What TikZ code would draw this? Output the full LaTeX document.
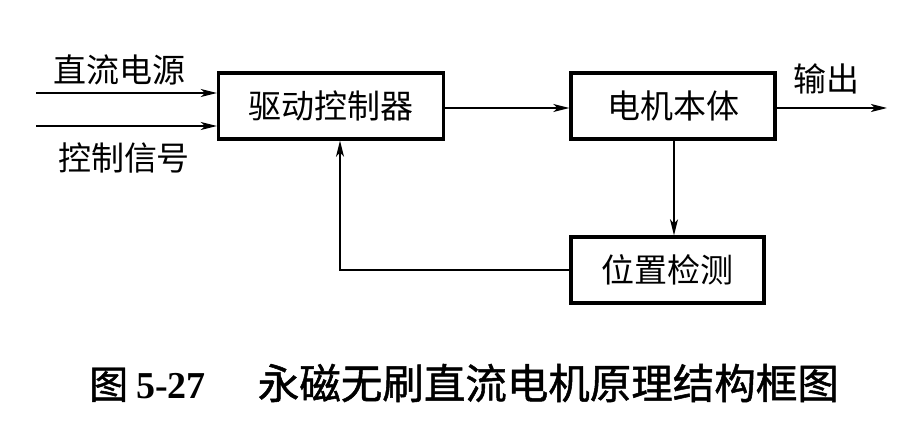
\documentclass[tikz,border=0pt]{standalone}
\usepackage{fontspec}
\setmainfont{Liberation Serif}
\newfontfamily\cjk{Noto Sans CJK SC}
\newfontfamily\cjkcap[FakeBold=1.2]{Noto Sans CJK SC}
\usetikzlibrary{arrows.meta}
\begin{document}
\begin{tikzpicture}[x=1pt,y=-1pt,
  blk/.style={draw, line width=3.4pt, minimum height=66pt, inner sep=0pt, font=\cjk\fontsize{33}{36}\selectfont},
  lbl/.style={font=\cjk\fontsize{33}{36}\selectfont, inner sep=0pt},
  conn/.style={line width=1.4pt, -{Stealth[length=16pt,width=8pt,inset=4pt]}},
  plain/.style={line width=1.4pt}]
\useasboundingbox (0,0) rectangle (914,444);
\node[blk, minimum width=225pt] (drv) at (331,106) {驱动控制器};
\node[blk, minimum width=204pt] (mot) at (673,106) {电机本体};
\node[blk, minimum width=193pt] (pos) at (667.5,270) {位置检测};
\coordinate (in1) at (36,93);
\coordinate (in2) at (36,126);
\coordinate (out) at (887,108);
\coordinate (fb) at (340,270);
\draw[conn] (in1) -- (in1 -| drv.west);
\draw[conn] (in2) -- (in2 -| drv.west);
\draw[conn] (drv.east |- 0,108) -- (mot.west |- 0,108);
\draw[conn] (mot.east |- out) -- (out);
\draw[conn] (mot.south -| 674,0) -- (pos.north -| 674,0);
\draw[conn] (pos.west) -- (fb) -- (fb |- drv.south);
\node[lbl] (l1) at (119,70) {直流电源};
\node[lbl] (l2) at (124,158) {控制信号};
\node[lbl] (l3) at (826,79) {输出};
\node[inner sep=0pt, anchor=west] (cap) at (89,383) {{\cjkcap\fontsize{39}{40}\selectfont 图}\hspace{8pt}{\bfseries\fontsize{38}{40}\selectfont 5-27}\hspace{52pt}{\cjkcap\fontsize{41.5}{42}\selectfont 永磁无刷直流电机原理结构框图}};
\end{tikzpicture}
\end{document}
